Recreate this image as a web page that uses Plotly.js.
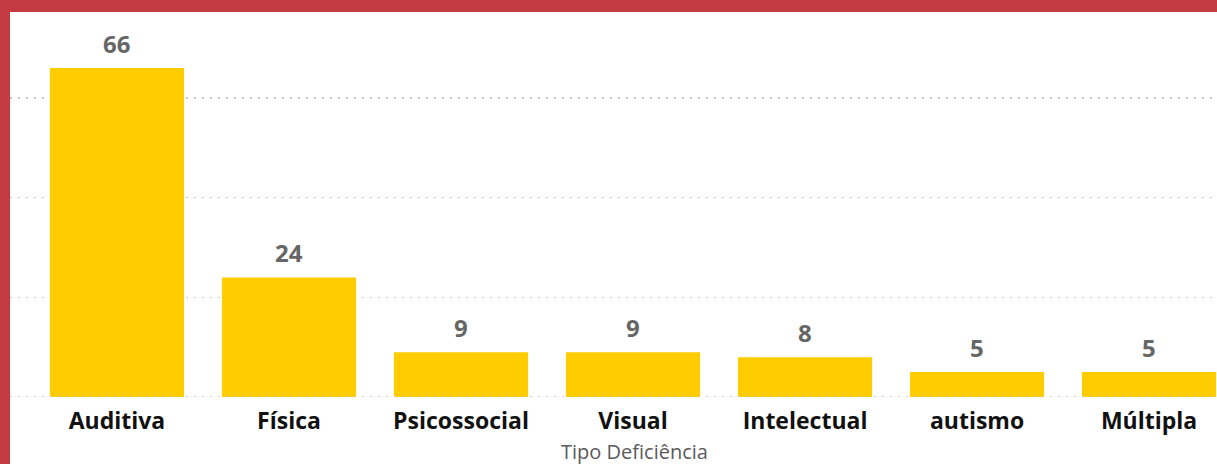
<!DOCTYPE html>
<html>
<head>
<meta charset="utf-8">
<script src="https://cdn.plot.ly/plotly-3.0.1.min.js"></script>
<style>
html, body { margin:0; padding:0; background:#C43B42; width:1217px; height:464px; overflow:hidden; }
#chart { position:absolute; left:10px; top:12px; width:1207px; height:452px; background:#fff; }
</style>
</head>
<body>
<div id="chart"></div>
<script>
const categories = ["Auditiva", "Física", "Psicossocial", "Visual", "Intelectual", "autismo", "Múltipla"];
const counts = [66, 24, 9, 9, 8, 5, 5];
const axisTitle = "Tipo Deficiência";

const trace = {
  type: "bar",
  x: categories,
  y: counts,
  marker: { color: "#FFCC00" },
  hoverinfo: "none"
};

const valueLabels = categories.map((c, i) => ({
  x: c, y: counts[i], xref: "x", yref: "y",
  text: String(counts[i]), showarrow: false,
  yanchor: "bottom", yshift: 6,
  font: { family: "Open Sans, Noto Sans, sans-serif", size: 24, color: "#666666", weight: "bold" }
}));

const layout = {
  width: 1207, height: 452,
  margin: { l: 0, r: 0, t: 0, b: 67 },
  paper_bgcolor: "#ffffff",
  plot_bgcolor: "#ffffff",
  bargap: 0.22,
  showlegend: false,
  xaxis: {
    type: "category",
    range: [-0.622, 6.395],
    showgrid: false, zeroline: false, showline: false,
    ticks: "",
    ticklabelstandoff: 8,
    tickfont: { family: "Open Sans, Noto Sans, sans-serif", size: 23, color: "#111111", weight: "bold" }
  },
  yaxis: {
    range: [0, 77.26],
    dtick: 20, tick0: 0,
    showticklabels: false,
    showgrid: true, gridcolor: "#c8c8c8", gridwidth: 1.5, griddash: "2px,6px",
    zeroline: false, showline: false
  },
  shapes: [{
    type: "line", xref: "paper", yref: "y", x0: 0, x1: 1, y0: 0, y1: 0,
    line: { color: "#c8c8c8", width: 1.5, dash: "2px,6px" }
  }],
  annotations: valueLabels.concat([{
    xref: "paper", yref: "paper", x: 0.517, y: 0,
    yanchor: "bottom", yshift: -70,
    text: axisTitle, showarrow: false,
    font: { family: "Open Sans, Noto Sans, sans-serif", size: 20, color: "#5a5a5a" }
  }])
};

Plotly.newPlot("chart", [trace], layout, { displayModeBar: false, staticPlot: true });
</script>
</body>
</html>
